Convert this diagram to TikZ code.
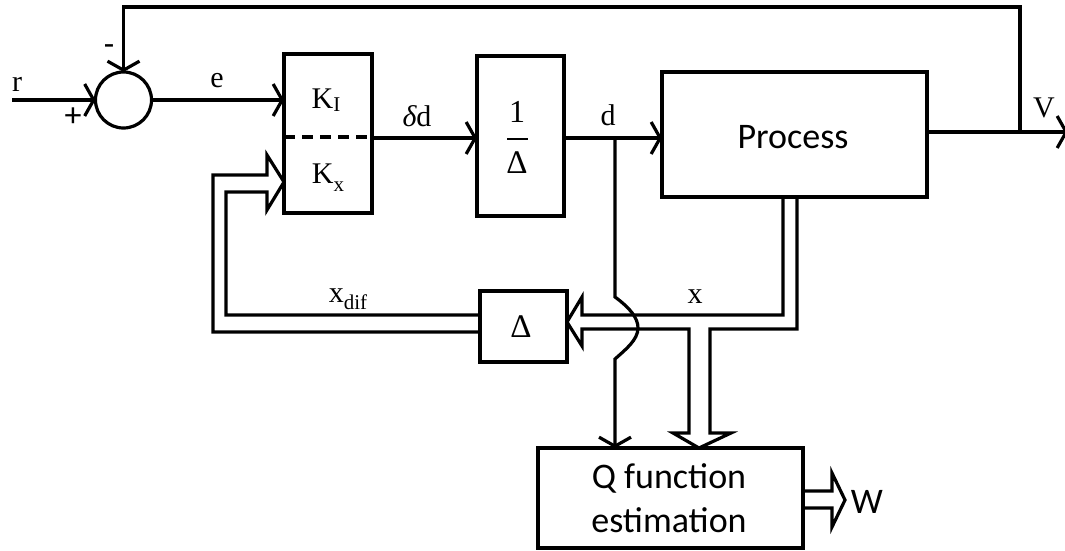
\documentclass[tikz,border=0pt]{standalone}
\usepackage{fontspec}
\setmainfont{Liberation Serif}
\newfontfamily\sansf{Carlito}
\usetikzlibrary{arrows.meta,calc}
\newcommand\myfs[1]{\fontsize{#1}{#1}\selectfont}
\begin{document}
\begin{tikzpicture}[x=1pt,y=-1pt, line width=3.2pt, line join=miter,
  box/.style={draw, rectangle, inner sep=0pt, outer sep=0pt},
  arr/.style={-{Straight Barb[length=9pt,width=32pt]}},
  lab/.style={inner sep=0pt, anchor=base, font=\myfs{30}},
  slab/.style={inner sep=0pt, anchor=base, font=\sansf\myfs{36}}]
\useasboundingbox (0,0) rectangle (1065,551);
% blocks
\node[draw, circle, minimum size=56pt, inner sep=0pt, outer sep=0pt] (sum) at (123.5,100) {};
\node[box, minimum width=88pt, minimum height=159pt] (kbox) at (328,133.5) {};
\node[box, minimum width=87pt, minimum height=160pt] (inv) at (520.5,136) {};
\node[box, minimum width=265pt, minimum height=125pt] (proc) at (794.5,134.5) {};
\node[box, minimum width=87pt, minimum height=71pt] (dbox) at (523.5,326.5) {};
\node[box, minimum width=265pt, minimum height=100pt] (qbox) at (670.5,498) {};
% texts inside blocks
\node[lab] (tki) at (326,108) {K\raisebox{-3pt}{\myfs{21}I}};
\node[lab] (tkx) at (328,183) {K\raisebox{-8pt}{\myfs{21}x}};
\node[lab, font=\myfs{32}] (tone) at (517,122) {1};
\node[lab, font=\myfs{33}] (tdel) at (517,173) {Δ};
\draw[line width=2pt] (507,139) -- (528,139);
\node[lab, font=\myfs{33}] (tdb) at (521,337) {Δ};
\node[slab] (tproc) at (793,148) {Process};
\node[slab] (tq1) at (669,488) {Q function};
\node[slab] (tq2) at (669,532) {estimation};
% dashed split in K box
\coordinate (kd) at (0,137);
\draw[dash pattern=on 11pt off 7pt] (kbox.west|-kd) -- (kbox.east|-kd);
% signal connectors
\coordinate (rin) at (12,100);
\draw[arr] (rin) -- (sum.west);
\draw[arr] (sum.east) -- (sum.east -| kbox.west);
\coordinate (dd) at (0,138);
\draw[arr] (kbox.east|-dd) -- (inv.west|-dd);
\draw[arr] (inv.east|-dd) -- (proc.west|-dd);
\coordinate (vy) at (0,132);
\coordinate (vend) at (1068,132);
\draw[arr] (proc.east|-vy) -- (vend);
\coordinate (fb) at (1020,132);
\coordinate (fbt) at (1020,7);
\draw[arr] (fb) -- (fbt) -- (fbt -| sum.north) -- (sum.north);
\coordinate (db) at (615,138);
\draw[arr] (db) -- (615,297) .. controls (630,308) and (638,318) .. (638,328)
  .. controls (638,340) and (625,350) .. (615,359) -- (db |- qbox.north);
% hollow (vector) arrows
\draw (480,332) -- (213,332) -- (213,175) -- (267,175) -- (267,155) -- (284,182)
  -- (267,210) -- (267,192) -- (226,192) -- (226,315) -- (480,315);
\draw (783,197) -- (783,315) -- (582,315) -- (582,297) -- (567,322) -- (582,346)
  -- (582,329) -- (689,329) -- (689,433) -- (673,433) -- (699,448) -- (731,433)
  -- (710,433) -- (710,329) -- (797,329) -- (797,197);
\draw (803,491) -- (832,491) -- (832,473) -- (845,500) -- (832,527) -- (832,508) -- (803,508);
% labels
\node[lab] (lr) at (17,92) {r};
\node[lab] (le) at (217,87) {e};
\node[lab] (ldd) at (417,126) {{\itshape δ}d};
\node[lab] (ld) at (608,125) {d};
\node[lab] (lx) at (695,303) {x};
\node[lab] (lxd) at (348,302) {x\raisebox{-7pt}{\myfs{21}dif}};
\node[lab] (lv) at (1044,117) {V};
\node[slab] (lw) at (867,513) {W};
\node[inner sep=0pt, font=\sansf\myfs{34}] (lplus) at (73,117) {+};
\node[inner sep=0pt, font=\sansf\myfs{34}] (lminus) at (109,50) {-};
\end{tikzpicture}
\end{document}
